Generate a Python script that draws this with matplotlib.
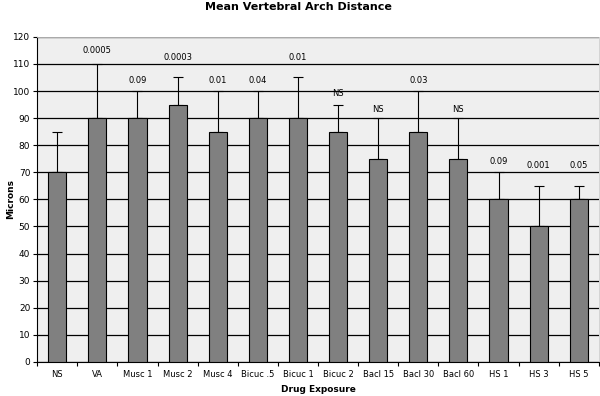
import numpy as np
import matplotlib
matplotlib.use("Agg")
import matplotlib.pyplot as plt

# data
groups = ['NS', 'VA', 'Musc 1', 'Musc 2', 'Musc 4', 'Bicuc .5', 'Bicuc 1',
          'Bicuc 2', 'Bacl 15', 'Bacl 30', 'Bacl 60', 'HS 1', 'HS 3', 'HS 5']
means = [70, 90, 90, 95, 85, 90, 90, 85, 75, 85, 75, 60, 50, 60]
err_up = [15, 20, 10, 10, 15, 10, 15, 10, 15, 15, 15, 10, 15, 5]
p_labels = ['', '0.0005', '0.09', '0.0003', '0.01', '0.04', '0.01',
            'NS', 'NS', '0.03', 'NS', '0.09', '0.001', '0.05']
# gap between top of error bar and the p-value text
label_gap = [0, 5, 4, 7.5, 4, 4, 7.5, 4, 3, 4, 3, 4, 7.5, 7.5]


def make_chart():
    plt.rcParams['font.family'] = 'DejaVu Sans'
    fig = plt.figure(figsize=(6, 3.96), dpi=100)
    ax = fig.add_axes([0.062, 0.086, 0.936, 0.821])
    ax.set_facecolor('#efefef')

    x = np.arange(len(groups))
    ax.bar(x, means, width=0.45, color='#808080', edgecolor='black',
           linewidth=0.8, zorder=3)
    ax.errorbar(x, means, yerr=[np.zeros(len(means)), err_up], fmt='none',
                ecolor='black', elinewidth=0.8, capsize=3.5, capthick=0.8,
                zorder=2)

    for xi, m, e, lab, g in zip(x, means, err_up, p_labels, label_gap):
        if lab:
            ax.text(xi, m + e + g, lab, ha='center', va='center', fontsize=6)

    ax.set_xlim(-0.5, len(groups) - 0.5)
    ax.set_ylim(0, 120)
    ax.set_yticks(range(0, 121, 10))
    ax.yaxis.grid(True, color='black', linewidth=0.9, zorder=1)
    ax.set_axisbelow(True)

    ax.set_xticks(x)
    ax.set_xticklabels(groups, fontsize=6)
    ax.set_xticks(np.arange(-0.5, len(groups), 1), minor=True)
    ax.tick_params(axis='x', which='major', length=0, pad=6)
    ax.tick_params(axis='x', which='minor', length=3, width=0.8)
    ax.tick_params(axis='y', labelsize=6.5, length=3, width=0.8, pad=2)

    for side in ['top', 'right']:
        ax.spines[side].set_color('#cccccc')
        ax.spines[side].set_linewidth(0.6)
    ax.spines['left'].set_linewidth(0.8)
    ax.spines['bottom'].set_linewidth(0.8)

    ax.set_xlabel('Drug Exposure', fontsize=6.5, fontweight='bold', labelpad=4)
    ax.set_ylabel('Microns', fontsize=6.5, fontweight='bold')
    ax.yaxis.set_label_coords(-0.04, 0.5)
    fig.suptitle('Mean Vertebral Arch Distance', fontsize=8,
                 fontweight='bold', x=0.497, y=0.995)

    fig.savefig('out.png', dpi=100)


if __name__ == "__main__":
    make_chart()
